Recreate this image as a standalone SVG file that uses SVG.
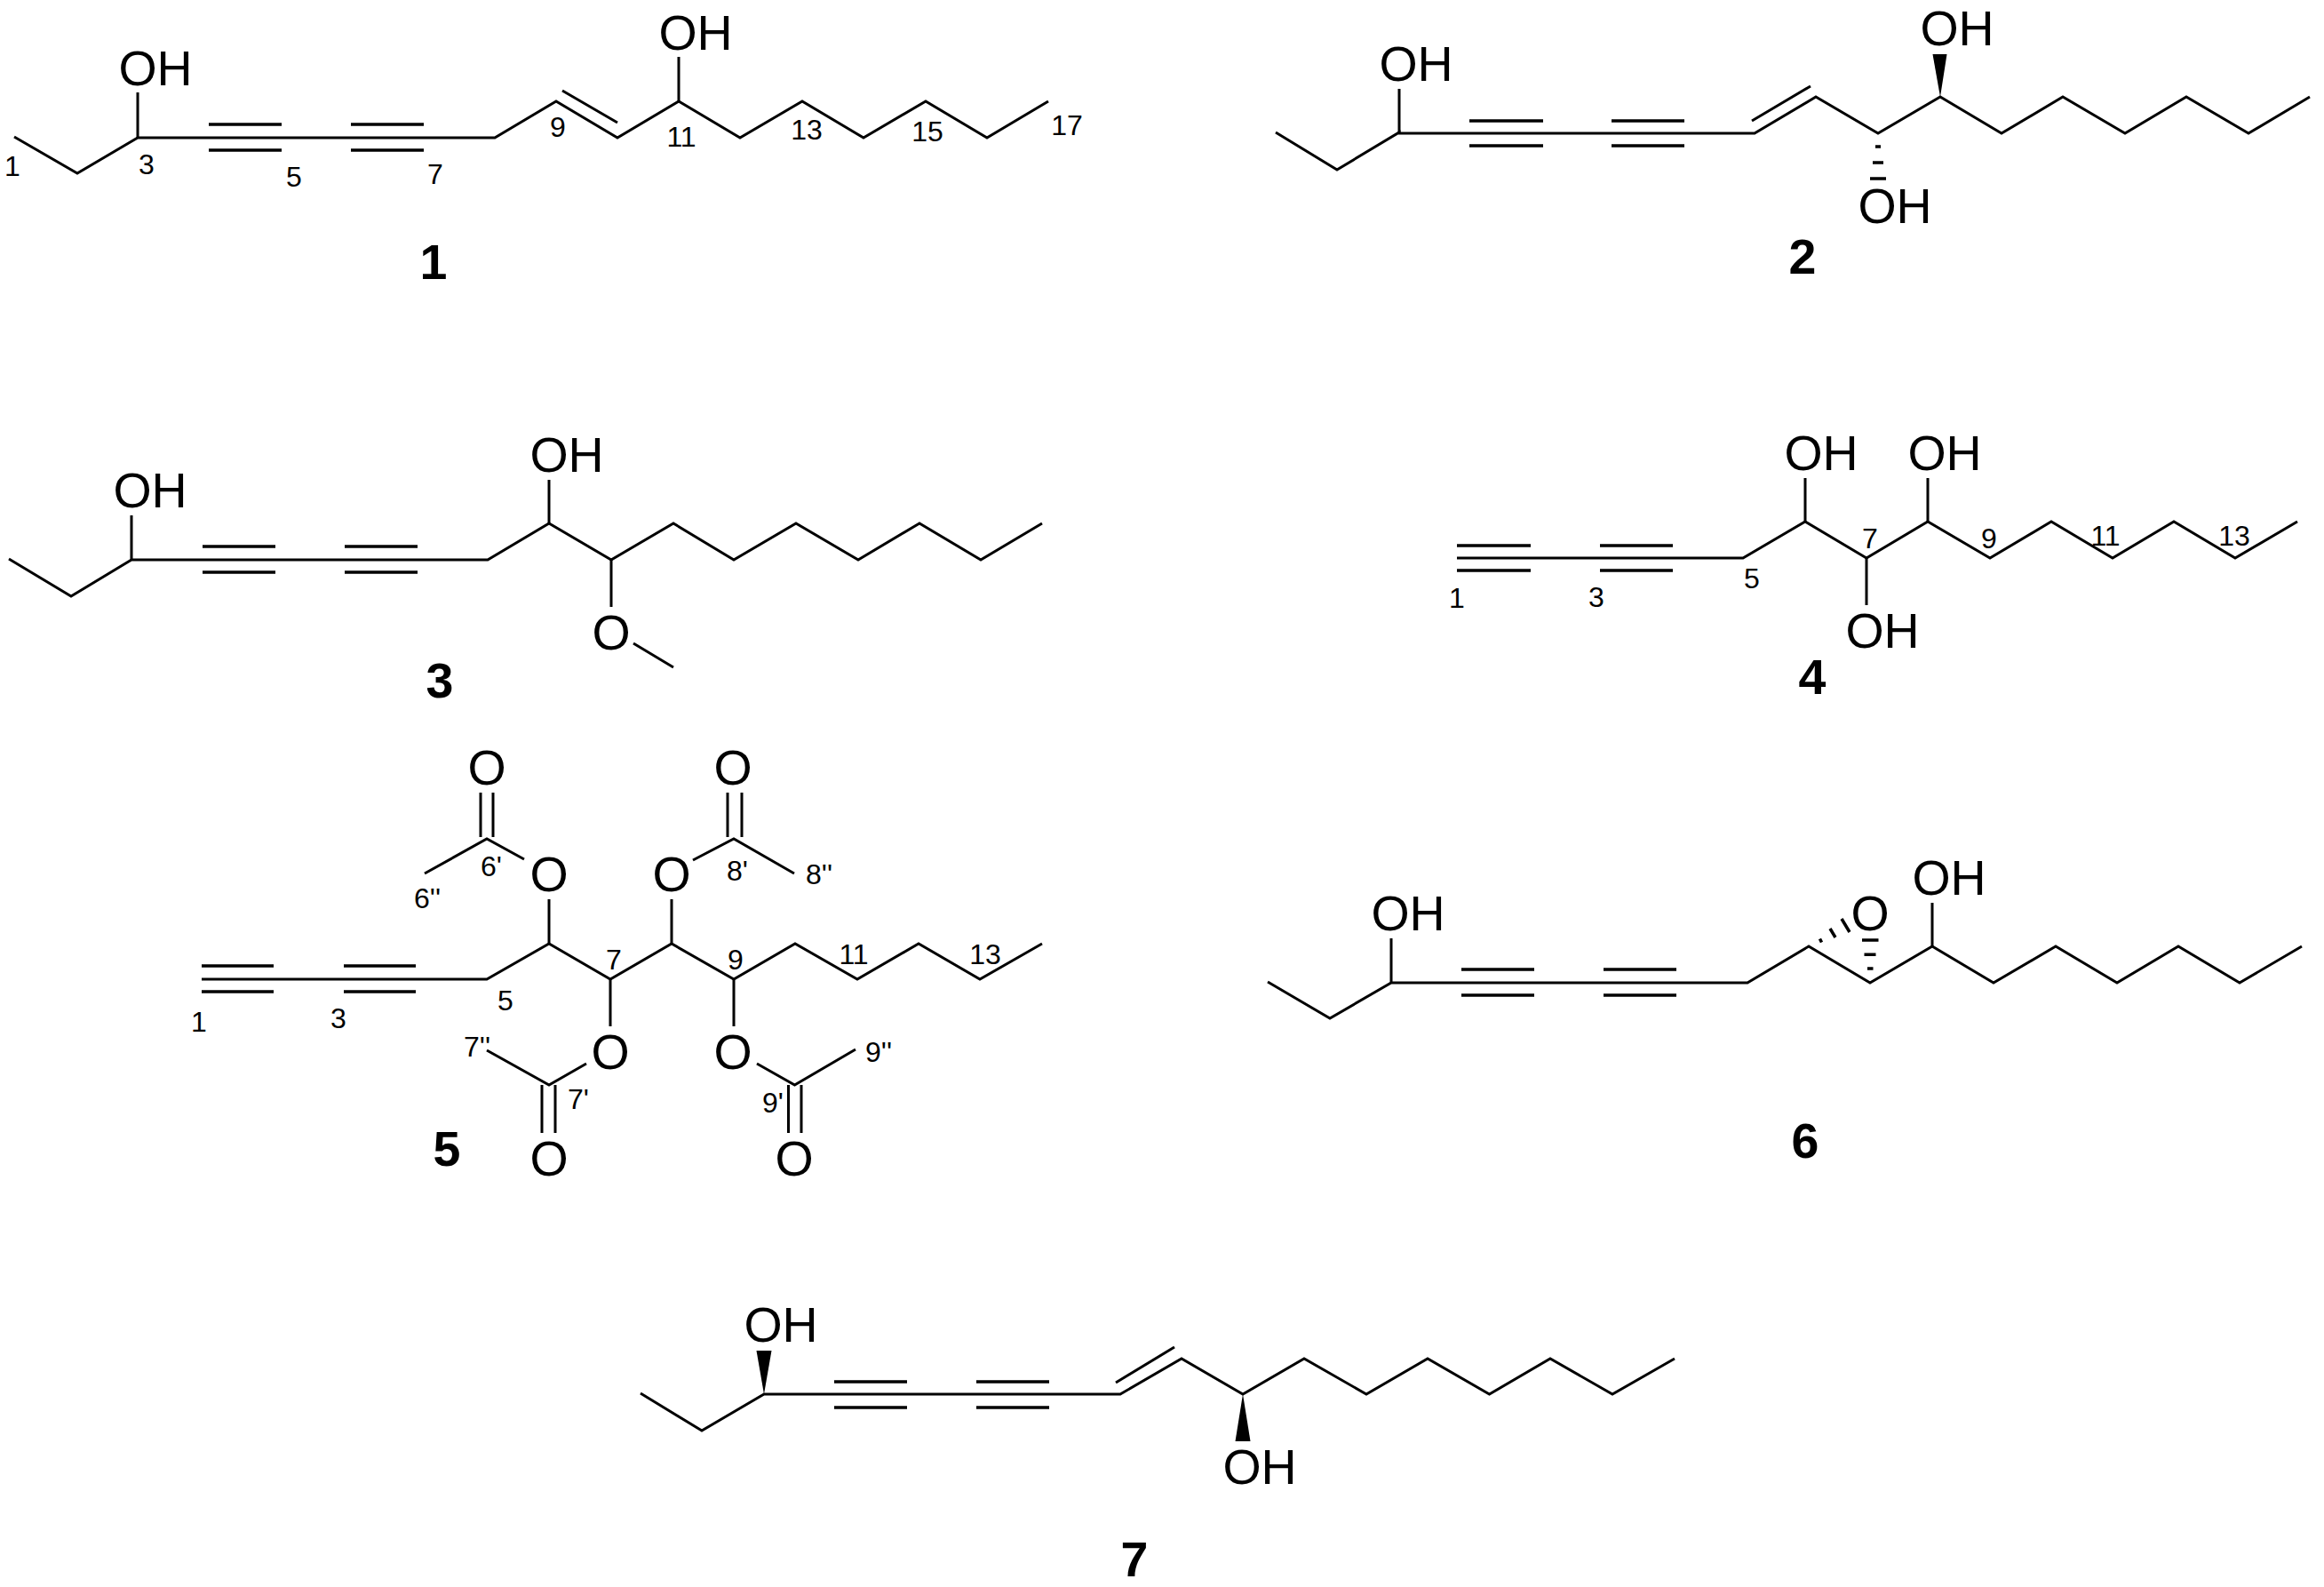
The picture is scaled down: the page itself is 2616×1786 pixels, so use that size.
<svg xmlns="http://www.w3.org/2000/svg" width="2616" height="1786" viewBox="0 0 2616 1786">
<style>
text{font-family:"Liberation Sans",Arial,sans-serif;fill:#000}
.a{font-size:55.500px;text-anchor:middle}
.n{font-size:32px;text-anchor:middle}
.c{font-size:55.500px;font-weight:bold;text-anchor:middle}
.b{fill:none;stroke:#000;stroke-width:3;stroke-linejoin:miter}
.t{fill:none;stroke:#000;stroke-width:3.500}
.w{fill:#000;stroke:none}
</style>
<rect width="2616" height="1786" fill="#fff"/>
<g id="compound-1">
<path class="b" d="M16 154L87 195L155 155L557 155L626 114L695 155L764 114L833 155L903 114L972 155L1042 114L1111 155L1180 114"/>
<path class="b" d="M633 102L695 138M155 104V155M764 64V114"/>
<path class="t" d="M235 140H317M235 169H317M395 140H477M395 169H477"/>
<text class="a" x="175" y="96">OH</text><text class="a" x="783" y="56">OH</text>
<text class="n" x="14" y="198">1</text><text class="n" x="165" y="196">3</text><text class="n" x="331" y="210">5</text><text class="n" x="490" y="207">7</text><text class="n" x="628" y="154">9</text><text class="n" x="767" y="165">11</text><text class="n" x="908" y="157">13</text><text class="n" x="1044" y="159">15</text><text class="n" x="1201" y="152">17</text>
<text class="c" x="488" y="313.500">1</text>
</g>
<g id="compound-2">
<path class="b" d="M1436 149L1505 191L1575 149L1575 150L1975 150L2044 109L2114 150L2184 109L2253 150L2322 109L2392 150L2461 109L2531 150L2600 109"/>
<path class="b" d="M1972 136L2038 97M1575 100V149"/>
<path class="t" d="M1654 136H1737M1654 164H1737M1814 136H1896M1814 164H1896"/>
<polygon class="w" points="2184,109 2175.500,61 2191.500,61"/>
<path class="t" d="M2111 165H2117M2108 183H2120M2105 201H2123"/>
<text class="a" x="1594" y="91">OH</text><text class="a" x="2203" y="51">OH</text><text class="a" x="2133" y="251">OH</text>
<text class="c" x="2029" y="308">2</text>
</g>
<g id="compound-3">
<path class="b" d="M10 629L80 671L148 630L549 630L618 589L688 630L758 589L826 630L896 589L966 630L1035 589L1104 630L1173 589"/>
<path class="b" d="M148 580V630M618 540V589M688 630V683M713 724L758 751"/>
<path class="t" d="M228 615H310M228 644H310M388 615H470M388 644H470"/>
<text class="a" x="169" y="571">OH</text><text class="a" x="638" y="531">OH</text><text class="a" x="688" y="731">O</text>
<text class="c" x="495" y="785">3</text>
</g>
<g id="compound-4">
<path class="b" d="M1640 628L1962 628L2032 587L2101 628L2170 587L2240 628L2309 587L2378 628L2447 587L2516 628L2586 587"/>
<path class="b" d="M2032 538V587M2170 538V587M2101 628V681"/>
<path class="t" d="M1640 614H1723M1640 642H1723M1801 614H1883M1801 642H1883"/>
<text class="a" x="2050" y="529">OH</text><text class="a" x="2189" y="529">OH</text><text class="a" x="2119" y="729">OH</text>
<text class="n" x="1640" y="684">1</text><text class="n" x="1797" y="683">3</text><text class="n" x="1972" y="662">5</text><text class="n" x="2105" y="617">7</text><text class="n" x="2239" y="617">9</text><text class="n" x="2370" y="614">11</text><text class="n" x="2515" y="614">13</text>
<text class="c" x="2040" y="781">4</text>
</g>
<g id="compound-5">
<path class="b" d="M227 1102L548 1102L618 1062L687 1102L756 1062L826 1102L895 1062L965 1102L1034 1062L1103 1102L1173 1062"/>
<path class="b" d="M618 1012V1062M756 1012V1062M687 1102V1155M826 1102V1155"/>
<path class="b" d="M590 967L548 944L478 983M541 892V942M555 892V942"/>
<path class="b" d="M780 968L826 944L894 983M819 892V942M835 892V942"/>
<path class="b" d="M660 1197L618 1221L548 1182M610 1221V1275M625 1221V1275"/>
<path class="b" d="M852 1197L894.500 1221L963 1181M887.500 1221V1275M902 1221V1275"/>
<path class="t" d="M227 1087H308M227 1116H308M387 1087H468M387 1116H468"/>
<text class="a" x="548" y="883">O</text><text class="a" x="825" y="883">O</text><text class="a" x="618" y="1003">O</text><text class="a" x="756" y="1003">O</text><text class="a" x="687" y="1203">O</text><text class="a" x="825" y="1203">O</text><text class="a" x="618" y="1323">O</text><text class="a" x="894" y="1323">O</text>
<text class="n" x="224" y="1161">1</text><text class="n" x="381" y="1157">3</text><text class="n" x="569" y="1137">5</text><text class="n" x="691" y="1091">7</text><text class="n" x="828" y="1091">9</text><text class="n" x="961" y="1085">11</text><text class="n" x="1109" y="1085">13</text>
<text class="n" x="553" y="986">6'</text><text class="n" x="481" y="1022">6''</text><text class="n" x="830" y="991">8'</text><text class="n" x="922" y="995">8''</text><text class="n" x="537" y="1189">7''</text><text class="n" x="651" y="1248">7'</text><text class="n" x="989" y="1195">9''</text><text class="n" x="870" y="1252">9'</text>
<text class="c" x="503" y="1312">5</text>
</g>
<g id="compound-6">
<path class="b" d="M1427 1105L1497 1146L1566 1106L1967 1106L2036 1065L2105 1106L2175 1065L2244 1106L2314 1065L2383 1106L2452 1065L2521 1106L2591 1065"/>
<path class="b" d="M1566 1056V1106M2175 1016V1065"/>
<path class="t" d="M1645 1091H1727M1645 1120H1727M1805 1091H1887M1805 1120H1887"/>
<path class="t" d="M2102 1090H2108.500M2098.500 1074.300H2111.500M2096 1058H2114.500"/>
<path class="t" d="M2048.500 1056.500L2050.500 1060.500M2060 1045L2066 1055M2073 1034L2082 1049"/>
<text class="a" x="1585" y="1047">OH</text><text class="a" x="2194" y="1007">OH</text><text class="a" x="2105" y="1046.500">O</text>
<text class="c" x="2032" y="1303">6</text>
</g>
<g id="compound-7">
<path class="b" d="M721 1568L790 1610L860 1569L1261 1569L1330 1529L1399 1569L1468 1529L1538 1569L1607 1529L1676.500 1569L1745 1529L1815 1569L1885 1529"/>
<path class="b" d="M1256 1556L1322 1516"/>
<path class="t" d="M939 1555H1021M939 1584H1021M1099 1555H1181M1099 1584H1181"/>
<polygon class="w" points="860,1569 851.500,1520 868.500,1520"/>
<polygon class="w" points="1399,1569 1390.500,1622 1407.500,1622"/>
<text class="a" x="879" y="1510">OH</text><text class="a" x="1418" y="1670">OH</text>
<text class="c" x="1277" y="1774">7</text>
</g>
</svg>
